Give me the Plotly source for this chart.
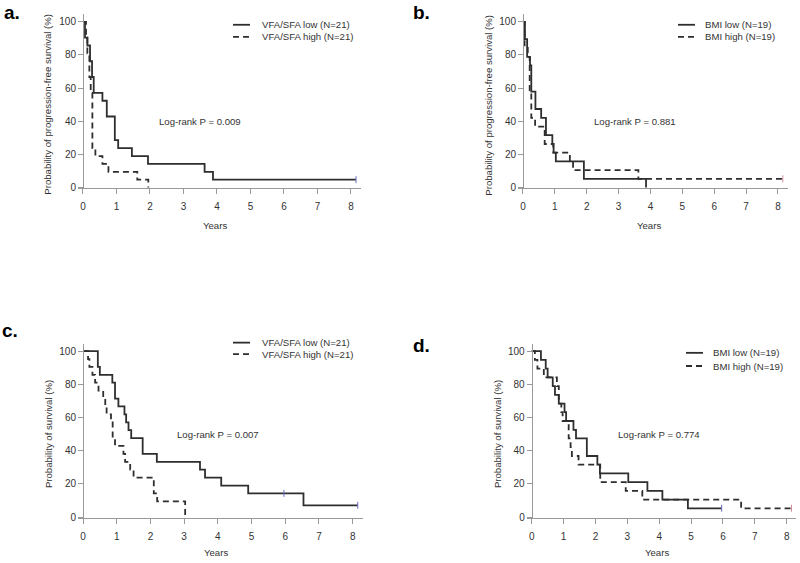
import plotly.graph_objects as go

W, H = 800, 563

# ---------------- data (years, survival %) ----------------
# a. progression-free survival by VFA/SFA
a_low_t = [0, 0.06, 0.13, 0.21, 0.27, 0.32, 0.58, 0.71, 0.95, 1.05, 1.46, 1.94, 3.63, 3.88, 8.15]
a_low_s = [100, 90.5, 85.7, 76.2, 66.7, 57.1, 52.4, 42.9, 28.6, 23.8, 19.0, 14.3, 9.5, 4.8, 4.8]
a_high_t = [0, 0.09, 0.13, 0.19, 0.23, 0.28, 0.37, 0.58, 0.76, 1.62, 1.95]
a_high_s = [100, 90.5, 81.0, 66.7, 57.1, 23.8, 19.0, 14.3, 9.5, 4.8, 0]
# b. progression-free survival by BMI
b_low_t = [0, 0.06, 0.13, 0.22, 0.26, 0.39, 0.57, 0.72, 0.92, 0.96, 1.03, 1.91, 3.86]
b_low_s = [100, 89.5, 78.9, 73.7, 57.9, 47.4, 42.1, 31.6, 26.3, 21.1, 15.8, 5.3, 0]
b_high_t = [0, 0.05, 0.15, 0.21, 0.26, 0.38, 0.68, 0.95, 1.47, 1.57, 3.62, 8.15]
b_high_s = [100, 84.2, 78.9, 57.9, 42.1, 36.8, 26.3, 21.1, 15.8, 10.5, 5.3, 5.3]
# c. overall survival by VFA/SFA
c_low_t = [0, 0.44, 0.5, 0.87, 0.95, 1.05, 1.23, 1.28, 1.35, 1.43, 1.77, 2.19, 3.47, 3.62, 4.1, 4.9, 6.54, 8.15]
c_low_s = [100, 90.5, 85.7, 81.0, 71.4, 66.7, 61.9, 57.1, 52.4, 47.6, 38.1, 33.3, 28.6, 23.8, 19.0, 14.3, 7.1, 7.1]
c_high_t = [0, 0.15, 0.19, 0.28, 0.36, 0.46, 0.6, 0.66, 0.7, 0.83, 0.88, 0.95, 1.2, 1.25, 1.4, 1.5, 2.1, 2.2, 3.03]
c_high_s = [100, 95.2, 90.5, 85.7, 81.0, 76.2, 71.4, 66.7, 61.9, 57.1, 47.6, 42.9, 38.1, 33.3, 28.6, 23.8, 14.3, 9.5, 0]
# d. overall survival by BMI
d_low_t = [0, 0.29, 0.44, 0.5, 0.66, 0.73, 0.85, 1.03, 1.08, 1.31, 1.39, 1.73, 2.06, 2.14, 3.03, 3.63, 4.1, 4.9, 5.96]
d_low_s = [100, 94.7, 89.5, 84.2, 78.9, 73.7, 68.4, 63.2, 57.9, 52.6, 47.4, 36.8, 31.6, 26.3, 21.1, 15.8, 10.5, 5.3, 5.3]
d_high_t = [0, 0.1, 0.18, 0.38, 0.79, 0.85, 0.93, 0.97, 1.16, 1.22, 1.26, 1.47, 2.15, 2.95, 3.47, 6.57, 8.15]
d_high_s = [100, 94.7, 89.5, 84.2, 78.9, 68.4, 63.2, 57.9, 47.4, 42.1, 36.8, 31.6, 21.1, 15.8, 10.5, 5.3, 5.3]

# censor marks (time, survival)
a_cens = ([8.15], [4.8]);  a_cens_hi = ([], [])
b_cens = ([], []);         b_cens_hi = ([8.15], [5.3])
c_cens = ([5.96, 8.15], [14.3, 7.1]); c_cens_hi = ([], [])
d_cens = ([5.96], [5.3]);  d_cens_hi = ([8.15], [5.3])

pvals = ["Log-rank P = 0.009", "Log-rank P = 0.881", "Log-rank P = 0.007", "Log-rank P = 0.774"]
pval_pos = [(3.5, 40), (3.5, 40), (4.0, 50), (4.0, 50)]
legend_a = ["VFA/SFA low (N=21)", "VFA/SFA high (N=21)"]
legend_b = ["BMI low (N=19)", "BMI high (N=19)"]
ytitles = ["Probability of progression-free survival (%)", "Probability of progression-free survival (%)",
           "Probability of survival (%)", "Probability of survival (%)"]
xtitle = "Years"
panel_labels = ["a.", "b.", "c.", "d."]
x_ticks = [0, 1, 2, 3, 4, 5, 6, 7, 8]
y_ticks = [0, 20, 40, 60, 80, 100]

# ---------------- layout geometry (pixels) ----------------
geo = [
    dict(x0=83, x8=351, y100=22, y0=189.3, lx=(233, 250), tx=260, ly=(25, 37.3), lab=(2, -1), ytx=48, xty=228),
    dict(x0=523, x8=778, y100=22, y0=189.3, lx=(678, 695), tx=703, ly=(25, 37.3), lab=(411, -1), ytx=489, xty=228),
    dict(x0=83, x8=352.7, y100=354.3, y0=521.7, lx=(233, 250), tx=260, ly=(345.7, 357.3), lab=(0, 321), ytx=48, xty=557.5),
    dict(x0=531.7, x8=786.7, y100=354.3, y0=521.7, lx=(686, 703), tx=711, ly=(356, 369.3), lab=(411, 336), ytx=497, xty=557.5),
]
XR = [-0.15, 8.3]
YR = [-0.5, 104.5]

curves = [
    (a_low_t, a_low_s, a_high_t, a_high_s, a_cens, a_cens_hi, legend_a),
    (b_low_t, b_low_s, b_high_t, b_high_s, b_cens, b_cens_hi, legend_b),
    (c_low_t, c_low_s, c_high_t, c_high_s, c_cens, c_cens_hi, legend_a),
    (d_low_t, d_low_s, d_high_t, d_high_s, d_cens, d_cens_hi, legend_b),
]

FONT = "Arial, Liberation Sans, sans-serif"
LINE = "#2e2e2e"
AXC = "#999999"
TXT = "#333333"
DASH = "6px,4px"
LW = 1.8
TS = 9.6

fig = go.Figure()
annotations = []
shapes = []


def py(yp):
    return 1 - yp / H


for i, (g, cv) in enumerate(zip(geo, curves)):
    n = "" if i == 0 else str(i + 1)
    xa, ya = "x" + n, "y" + n
    ppx = (g["x8"] - g["x0"]) / 8
    ppy = (g["y0"] - g["y100"]) / 100
    left = g["x0"] + XR[0] * ppx
    right = g["x0"] + XR[1] * ppx
    top = g["y100"] - (YR[1] - 100) * ppy
    bottom = g["y0"] - YR[0] * ppy
    lt, ls, ht, hs, cl, ch, leg = cv

    fig.add_trace(go.Scatter(x=lt, y=ls, mode="lines", line=dict(shape="hv", color=LINE, width=LW),
                             xaxis=xa, yaxis=ya, showlegend=False, hoverinfo="skip"))
    fig.add_trace(go.Scatter(x=ht, y=hs, mode="lines", line=dict(shape="hv", color=LINE, width=LW, dash=DASH),
                             xaxis=xa, yaxis=ya, showlegend=False, hoverinfo="skip"))
    if cl[0]:
        fig.add_trace(go.Scatter(x=cl[0], y=cl[1], mode="markers",
                                 marker=dict(symbol="line-ns-open", size=5, color="#6a6ac0", line=dict(width=1)),
                                 xaxis=xa, yaxis=ya, showlegend=False, hoverinfo="skip"))
    if ch[0]:
        fig.add_trace(go.Scatter(x=ch[0], y=ch[1], mode="markers",
                                 marker=dict(symbol="line-ns-open", size=5, color="#d08a9a", line=dict(width=1)),
                                 xaxis=xa, yaxis=ya, showlegend=False, hoverinfo="skip"))

    axcommon = dict(showgrid=False, zeroline=False, showline=True, linecolor=AXC, linewidth=1,
                    ticks="outside", ticklen=5, tickcolor=AXC, tickwidth=1, ticklabeloverflow="allow",
                    tickfont=dict(family=FONT, size=10, color=TXT), fixedrange=True)
    fig.update_layout(**{
        "xaxis" + n: dict(domain=[left / W, right / W], range=XR, anchor=ya, ticklabelstandoff=4,
                          tickvals=x_ticks, **axcommon),
        "yaxis" + n: dict(domain=[1 - bottom / H, 1 - top / H], range=YR, anchor="free",
                          position=g["x0"] / W, tickvals=y_ticks, **axcommon),
    })

    annotations.append(dict(x=pval_pos[i][0], y=pval_pos[i][1], xref=xa, yref=ya, text=pvals[i],
                            showarrow=False, font=dict(family=FONT, size=TS, color=TXT)))
    for k, (dash, lab) in enumerate([("solid", leg[0]), (DASH, leg[1])]):
        yy = py(g["ly"][k])
        shapes.append(dict(type="line", xref="paper", yref="paper", x0=g["lx"][0] / W, x1=g["lx"][1] / W,
                           y0=yy, y1=yy, line=dict(color=LINE, width=LW, dash=dash)))
        annotations.append(dict(x=g["tx"] / W, y=yy, xref="paper", yref="paper", text=lab, showarrow=False,
                                xanchor="left", yanchor="middle", font=dict(family=FONT, size=TS, color=TXT)))
    annotations.append(dict(x=g["lab"][0] / W, y=py(max(g["lab"][1], 0)), xref="paper", yref="paper",
                            text="<b>" + panel_labels[i] + "</b>", showarrow=False, xanchor="left",
                            yanchor="top", font=dict(family=FONT, size=19, color="#000000")))
    annotations.append(dict(x=g["ytx"] / W, y=1 - ((g["y100"] + g["y0"]) / 2) / H, xref="paper", yref="paper",
                            text=ytitles[i], textangle=-90, showarrow=False, xanchor="center", yanchor="middle",
                            font=dict(family=FONT, size=TS, color=TXT)))
    annotations.append(dict(x=((g["x0"] + g["x8"]) / 2 - 2) / W, y=py(g["xty"]), xref="paper", yref="paper",
                            text=xtitle, showarrow=False, xanchor="center", yanchor="middle",
                            font=dict(family=FONT, size=TS, color=TXT)))

fig.update_layout(width=W, height=H, margin=dict(l=0, r=0, t=0, b=0),
                  paper_bgcolor="white", plot_bgcolor="white",
                  annotations=annotations, shapes=shapes, showlegend=False,
                  font=dict(family=FONT, size=10, color=TXT))

fig.write_html("out.html", config=dict(displayModeBar=False, staticPlot=True),
               post_script="document.body.style.margin='0px';document.body.style.overflow='hidden';")
